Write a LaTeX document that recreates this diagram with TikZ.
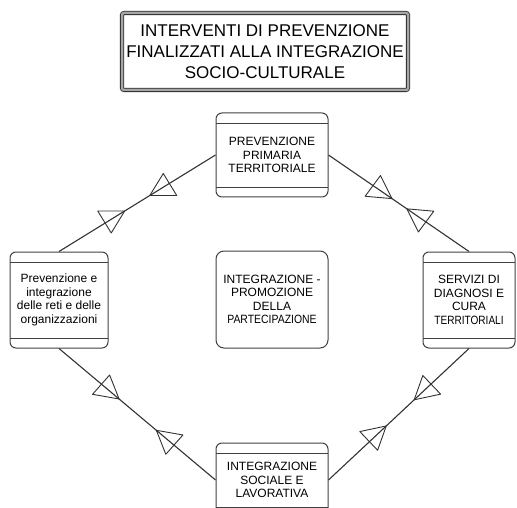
\documentclass[tikz,border=0pt]{standalone}
\usepackage{fontspec}
\setmainfont{Liberation Sans}
\usepackage{graphicx}
\usetikzlibrary{positioning}
\tikzstyle{link} = [draw=black!80, line width=1.1pt]
\tikzstyle{punta} = [draw=black!80, line width=0.9pt, line join=round]
\tikzstyle{riquadro} = [draw=black!75, line width=1pt, rounded corners=6pt, align=center, inner sep=0pt,
    font=\fontsize{12}{13.5}\selectfont]
\tikzstyle{fase} = [riquadro, path picture={
    \draw[black!75, line width=0.8pt] ([yshift=-10pt]path picture bounding box.north west) -- ([yshift=-10pt]path picture bounding box.north east);
    \draw[black!75, line width=0.8pt] ([yshift=10pt]path picture bounding box.south west) -- ([yshift=10pt]path picture bounding box.south east);}]
\tikzstyle{titolo} = [draw=black!85, line width=0.8pt, double=black!35, double distance=2.5pt, rounded corners=2pt,
    align=center, inner sep=0pt, font=\fontsize{17}{21}\selectfont]
% triangolo: punto sulla linea, verso della base, verso della punta, rotazione
\newcommand{\triangolo}[4]{%
    \begin{scope}[shift={(#1)}, rotate=#4]
        \draw[punta] (0,0) -- ({27*(#2)},0) -- ({13.5*(#2)},{22*(#3)}) -- cycle;
    \end{scope}}

\begin{document}
\begin{tikzpicture}[x=1pt, y=-1pt]
    \path[use as bounding box, clip] (0,0) rectangle (517,508);

    \node[titolo, minimum width=286pt, minimum height=77pt] (titolo) at (265,51.5)
        {INTERVENTI DI PREVENZIONE\\FINALIZZATI ALLA INTEGRAZIONE\\SOCIO-CULTURALE};

    \node[fase, minimum width=112pt, minimum height=84pt] (alto) at (272,155)
        {PREVENZIONE\\PRIMARIA\\TERRITORIALE};
    \node[fase, minimum width=98pt, minimum height=96pt] (sinistra) at (59,300)
        {Prevenzione e\\integrazione\\delle reti e delle\\organizzazioni};
    \node[fase, minimum width=92pt, minimum height=96pt] (destra) at (469,300)
        {SERVIZI DI\\DIAGNOSI E\\CURA\\\scalebox{0.84}[1]{TERRITORIALI}};
    \node[riquadro, rounded corners=8pt, minimum width=112pt, minimum height=97pt] (centro) at (272,299.5)
        {INTEGRAZIONE -\\PROMOZIONE\\DELLA\\\scalebox{0.87}[1]{PARTECIPAZIONE}};
    \node[fase, minimum width=112pt, minimum height=74pt] (basso) at (272,480)
        {INTEGRAZIONE\\SOCIALE E\\LAVORATIVA};

    \draw[link] (sinistra.north) -- (alto.west)
        coordinate[pos=0.42] (t1) coordinate[pos=0.58] (t2);
    \draw[link] (alto.east) -- (destra.north)
        coordinate[pos=0.452] (t3) coordinate[pos=0.558] (t4);
    \draw[link] (sinistra.south) -- (basso.west)
        coordinate[pos=0.384] (t5) coordinate[pos=0.622] (t6);
    \draw[link] (destra.south) -- (basso.east)
        coordinate[pos=0.39] (t7) coordinate[pos=0.589] (t8);

    \triangolo{t1}{-1}{1}{0}
    \triangolo{t2}{1}{-1}{0}
    \triangolo{t3}{-1}{-1}{-5}
    \triangolo{t4}{1}{1}{-5}
    \triangolo{t5}{-1}{-1}{-10}
    \triangolo{t6}{1}{1}{-10}
    \triangolo{t7}{1}{-1}{12}
    \triangolo{t8}{-1}{1}{12}
\end{tikzpicture}
\end{document}
